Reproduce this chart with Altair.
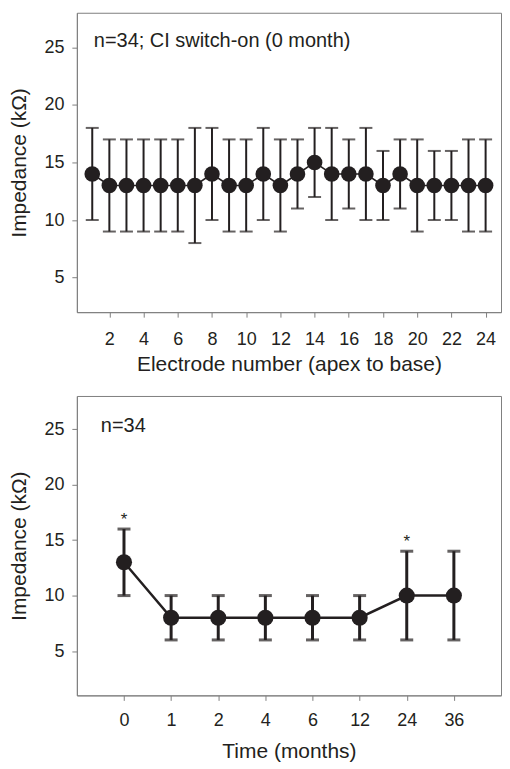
import altair as alt
import pandas as pd

# ---------------- data ----------------
electrodes = list(range(1, 25))
elec_mean = [14, 13, 13, 13, 13, 13, 13, 14, 13, 13, 14, 13, 14, 15, 14, 14, 14, 13, 14, 13, 13, 13, 13, 13]
elec_upper = [18, 17, 17, 17, 17, 17, 18, 18, 17, 17, 18, 17, 17, 18, 18, 17, 18, 16, 17, 17, 16, 16, 17, 17]
elec_lower = [10, 9, 9, 9, 9, 9, 8, 10, 9, 9, 10, 9, 11, 12, 10, 11, 10, 10, 11, 9, 10, 10, 9, 9]

months = ["0", "1", "2", "4", "6", "12", "24", "36"]
month_mean = [13, 8, 8, 8, 8, 8, 10, 10]
month_upper = [16, 10, 10, 10, 10, 10, 14, 14]
month_lower = [10, 6, 6, 6, 6, 6, 6, 6]
month_sig = ["*", "", "", "", "", "", "*", ""]

top_note = "n=34; CI switch-on (0 month)"
bottom_note = "n=34"

# ---------------- style ----------------
INK = "#231f20"
GRAY = "#808080"
FONT = "Liberation Sans"
W, H = 425, 300

top_df = pd.DataFrame({"electrode": electrodes, "mean": elec_mean,
                       "upper": elec_upper, "lower": elec_lower})
bot_df = pd.DataFrame({"month": months, "mean": month_mean,
                       "upper": month_upper, "lower": month_lower, "sig": month_sig})


def yenc(field, domain):
    return alt.Y(f"{field}:Q",
                 scale=alt.Scale(domain=domain, nice=False, zero=False),
                 axis=alt.Axis(values=[5, 10, 15, 20, 25], title="Impedance (kΩ)",
                               labelPadding=8, titlePadding=14))


# ---------------- top panel ----------------
x_top = alt.X("electrode:Q",
              scale=alt.Scale(domain=[0.1, 24.9], nice=False, zero=False),
              axis=alt.Axis(values=list(range(2, 25, 2)),
                            title="Electrode number (apex to base)",
                            labelPadding=13, titlePadding=5))
tb = alt.Chart(top_df).encode(x=x_top)
TD = [2, 28]
top = alt.layer(
    tb.mark_rule(color=INK, strokeWidth=2).encode(y=yenc("lower", TD), y2="upper:Q"),
    tb.mark_tick(color=INK, orient="horizontal", size=13, thickness=2).encode(y=yenc("upper", TD)),
    tb.mark_tick(color=INK, orient="horizontal", size=13, thickness=2).encode(y=yenc("lower", TD)),
    tb.mark_line(color=INK, strokeWidth=1.6).encode(y=yenc("mean", TD)),
    tb.mark_circle(color=INK, size=245, opacity=1).encode(y=yenc("mean", TD)),
    alt.Chart(pd.DataFrame({"t": [top_note]})).mark_text(
        align="left", baseline="alphabetic", font=FONT, fontSize=20, color=INK
    ).encode(x=alt.value(17), y=alt.value(34), text="t:N"),
).properties(width=W, height=H)

# ---------------- bottom panel ----------------
x_bot = alt.X("month:N", sort=months,
              scale=alt.Scale(type="point", domain=months, padding=1),
              axis=alt.Axis(labelAngle=0, title="Time (months)",
                            labelPadding=11, titlePadding=11))
bb = alt.Chart(bot_df).encode(x=x_bot)
BD = [1, 28]
bottom = alt.layer(
    bb.mark_rule(color=INK, strokeWidth=3).encode(y=yenc("lower", BD), y2="upper:Q"),
    bb.mark_tick(color=INK, orient="horizontal", size=13, thickness=3).encode(y=yenc("upper", BD)),
    bb.mark_tick(color=INK, orient="horizontal", size=13, thickness=3).encode(y=yenc("lower", BD)),
    bb.mark_line(color=INK, strokeWidth=2.5).encode(y=yenc("mean", BD)),
    bb.mark_circle(color=INK, size=260, opacity=1).encode(y=yenc("mean", BD)),
    bb.mark_text(color=INK, font=FONT, fontSize=17, baseline="alphabetic", dy=-4).encode(
        y=yenc("upper", BD), text="sig:N"),
    alt.Chart(pd.DataFrame({"t": [bottom_note]})).mark_text(
        align="left", baseline="alphabetic", font=FONT, fontSize=20, color=INK
    ).encode(x=alt.value(24), y=alt.value(36), text="t:N"),
).properties(width=W, height=H)

chart = alt.vconcat(top, bottom, spacing=20).properties(
    padding={"left": 0, "top": 3, "right": 0, "bottom": 0}
).configure_view(
    stroke=GRAY, strokeWidth=1
).configure_axis(
    grid=False, domainColor=GRAY, tickColor=GRAY, tickSize=5, domainWidth=1, tickWidth=1,
    labelFont=FONT, labelFontSize=18, labelColor=INK,
    titleFont=FONT, titleFontSize=21, titleColor=INK, titleFontWeight="normal",
)

chart.save("out.html", embed_options={"renderer": "svg", "actions": False})
